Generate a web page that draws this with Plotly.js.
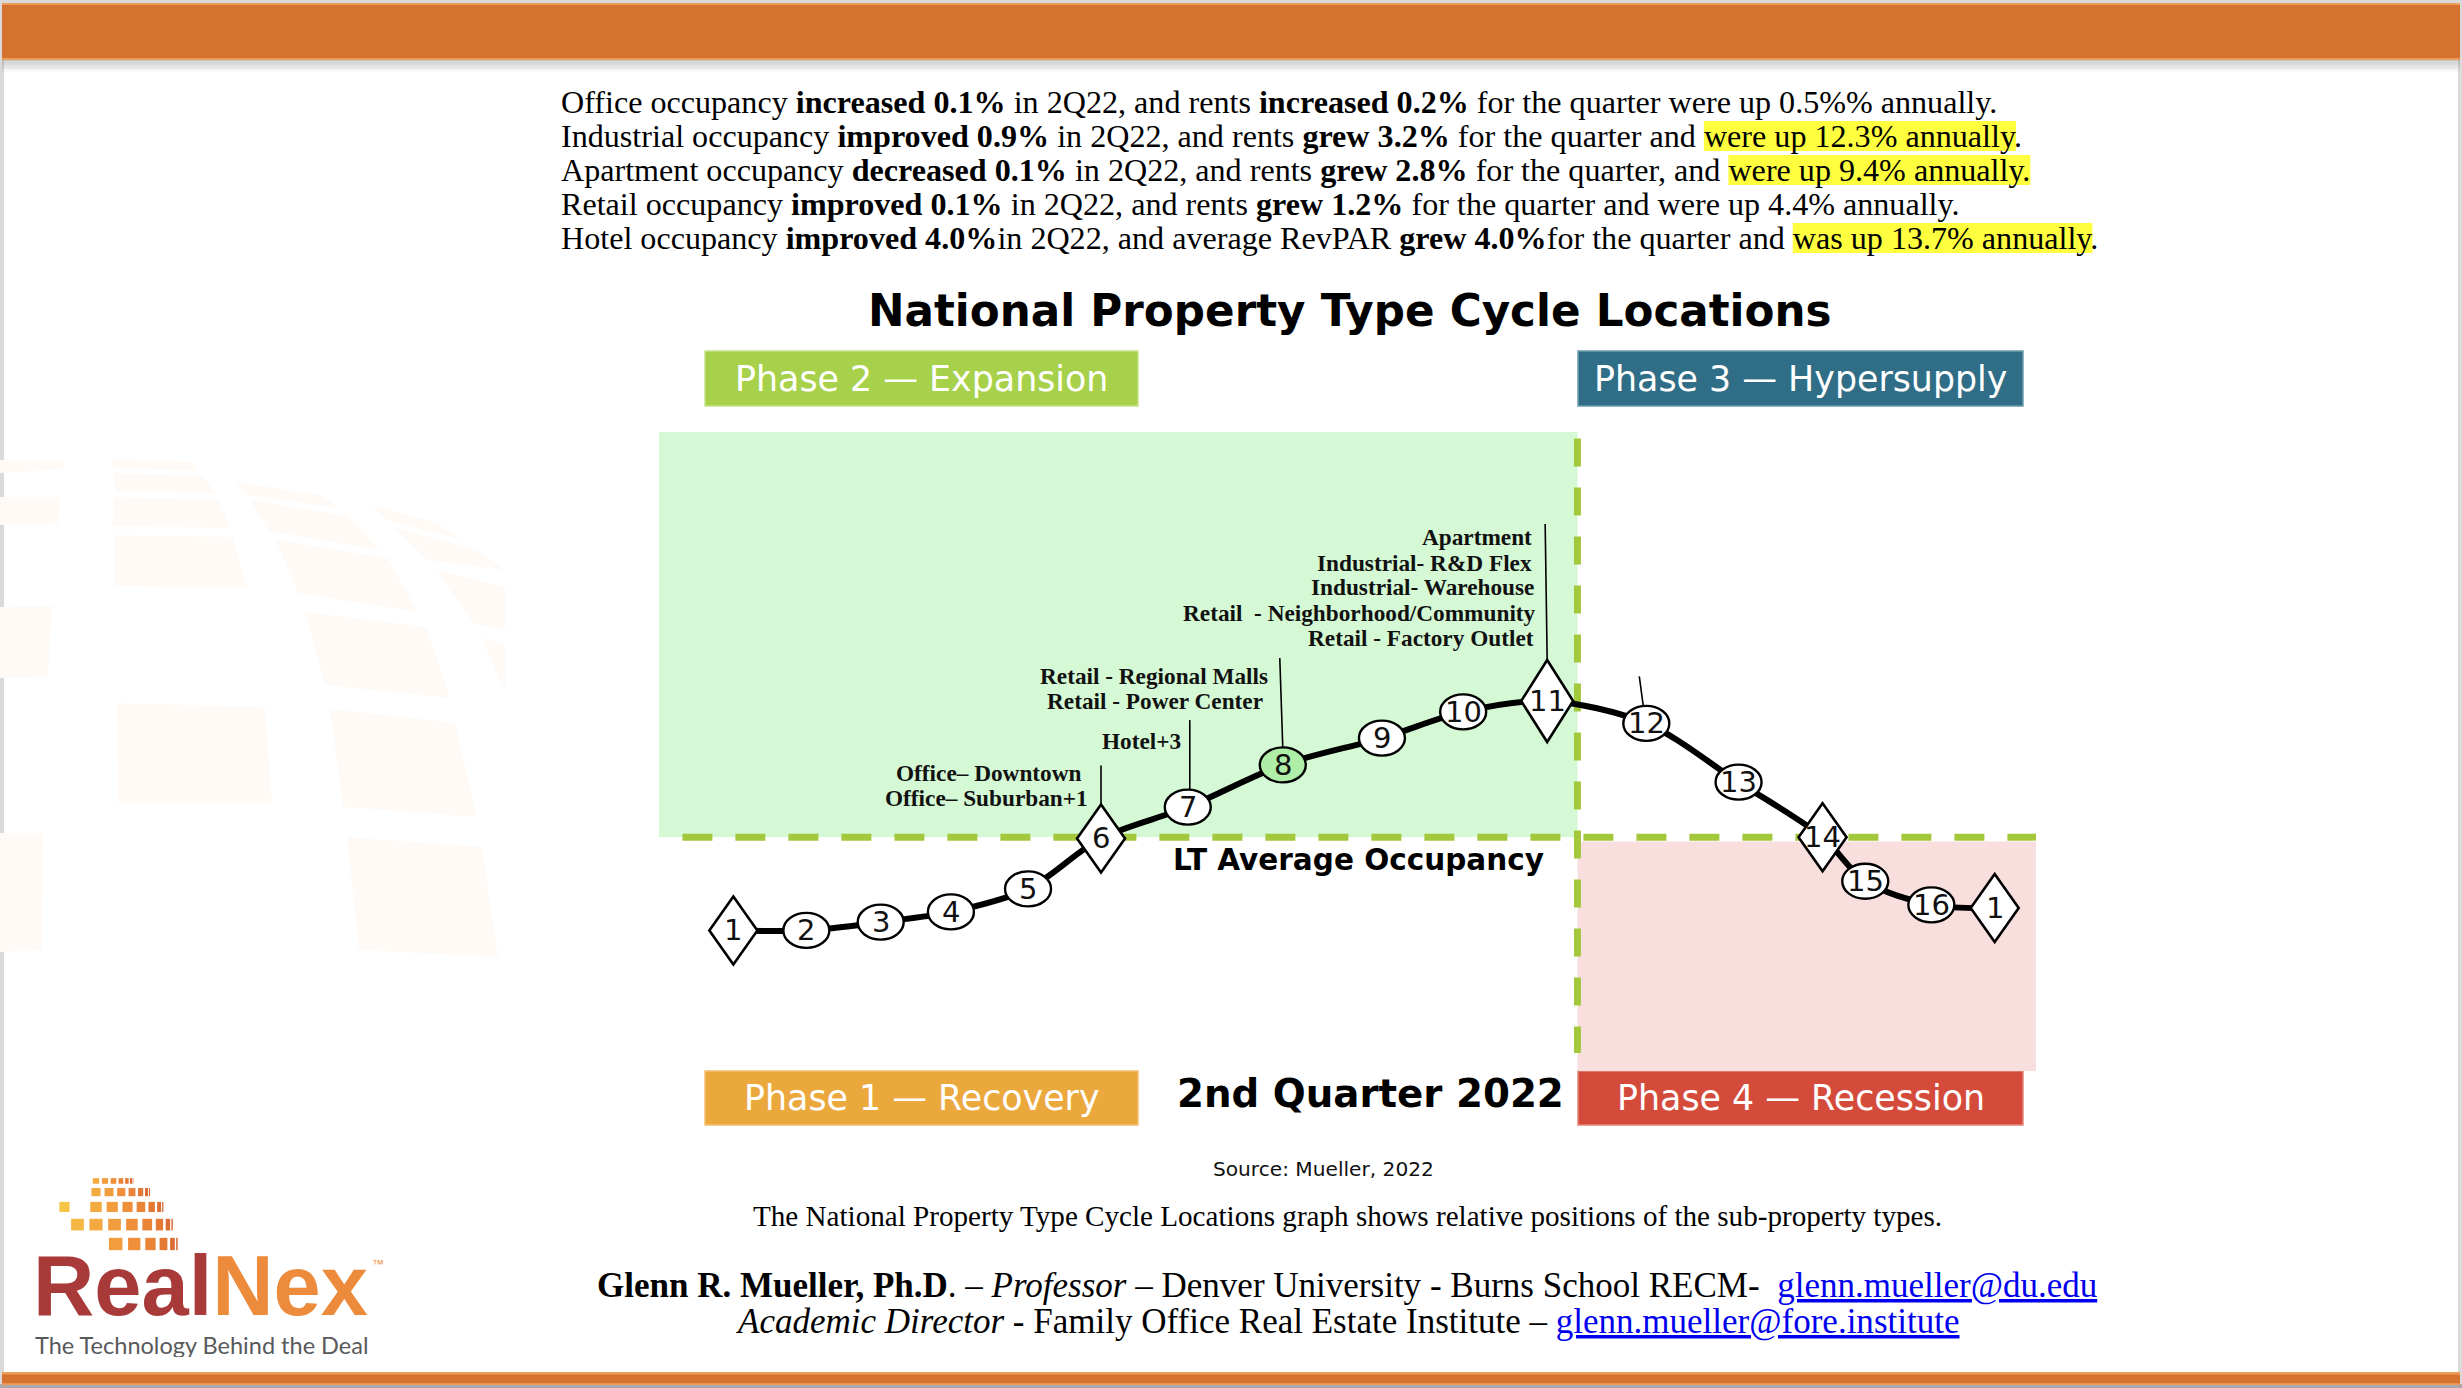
<!DOCTYPE html>
<html>
<head>
<meta charset="utf-8">
<script src="https://cdn.plot.ly/plotly-3.0.1.min.js"></script>
<style>html,body{margin:0;padding:0;background:#fff;overflow:hidden}#chart{width:2462px;height:1388px}</style>
</head>
<body>
<div id="chart"></div>
<script>
// ================= DATA =================
const cycleLabels    = ['1','2','3','4','5','6','7','8','9','10','11','12','13','14','15','16','1'];
const cyclePosition  = [5.4, 10.7, 16.1, 21.2, 26.8, 32.1, 38.4, 45.3, 52.5, 58.4, 64.5, 71.7, 78.4, 84.5, 87.6, 92.4, 97.0];
const occupancyIndex = [-14.6, -14.6, -13.3, -11.7, -8.1, -0.2, 4.7, 11.3, 15.5, 19.6, 21.3, 17.8, 8.6, 0.0, -6.9, -10.6, -11.1];
const turningPoints  = ['1', '6', '11', '14'];
const currentPointLabel = '8';
const ltAverageOccupancy = 0;
const hypersupplyStart = 66.7;
const propertyTypePoint = ['6', '7', '8', '11', '12'];
const propertyTypeNames = [
  ['Office– Downtown', 'Office– Suburban+1'],
  ['Hotel+3'],
  ['Retail - Regional Malls', 'Retail - Power Center'],
  ['Apartment', 'Industrial- R&amp;D Flex', 'Industrial- Warehouse', 'Retail  - Neighborhood/Community', 'Retail - Factory Outlet'],
  []
];
const phaseNames = ['Phase 1 — Recovery', 'Phase 2 — Expansion', 'Phase 3 — Hypersupply', 'Phase 4 — Recession'];
const summaryLines = [
  [['Office occupancy ', ''], ['increased 0.1%', 'b'], [' in 2Q22, and rents ', ''], ['increased 0.2%', 'b'], [' for the quarter were up 0.5%% annually.', '']],
  [['Industrial occupancy ', ''], ['improved 0.9%', 'b'], [' in 2Q22, and rents ', ''], ['grew 3.2%', 'b'], [' for the quarter and ', ''], ['were up 12.3% annually', 'h'], ['.', '']],
  [['Apartment occupancy ', ''], ['decreased 0.1%', 'b'], [' in 2Q22, and rents ', ''], ['grew 2.8%', 'b'], [' for the quarter, and ', ''], ['were up 9.4% annually.', 'h']],
  [['Retail occupancy ', ''], ['improved 0.1%', 'b'], [' in 2Q22, and rents ', ''], ['grew 1.2%', 'b'], [' for the quarter and were up 4.4% annually.', '']],
  [['Hotel occupancy ', ''], ['improved 4.0%', 'b'], ['in 2Q22, and average RevPAR ', ''], ['grew 4.0%', 'b'], ['for the quarter and ', ''], ['was up 13.7% annually', 'h'], ['.', '']]
];
const chartTitle = 'National Property Type Cycle Locations';
const quarterLabel = '2nd Quarter 2022';
const ltLabel = 'LT Average Occupancy';
const sourceText = 'Source: Mueller, 2022';
const captionText = 'The National Property Type Cycle Locations graph shows relative positions of the sub-property types.';
const authorLines = [
  [['Glenn R. Mueller, Ph.D', 'b'], ['. – ', ''], ['Professor', 'i'], [' – Denver University - Burns School RECM-  ', ''], ['glenn.mueller@du.edu', 'u']],
  [['Academic Director', 'i'], [' - Family Office Real Estate Institute – ', ''], ['glenn.mueller@fore.institute', 'u']]
];

// ================= STYLE / PLACEMENT =================
const W = 2462, H = 1388;
const PX = x => x / W, PY = y => 1 - y / H;
const labelOffsets = {
  '6': [[-19, 65], [-13, 40]],
  '7': [[-7, 66]],
  '8': [[-15, 89], [-20, 64]],
  '11': [[-15, 164], [-15, 138], [-13, 114], [-11, 88], [-13, 63]],
  '12': []
};
const leaderOffsets = {'6': [0, 34, 0, 73], '7': [2, 17, 2, 87], '8': [0, 17, -3, 107], '11': [0, 41, -2, 177], '12': [-3, 17, -7, 47]};
const diamondSize = {'default': [24, 34], '11': [26, 41]};

const ctx = document.createElement('canvas').getContext('2d');
function measure(text, style, size, family) {
  ctx.font = (style.includes('i') ? 'italic ' : '') + (style.includes('b') ? 'bold ' : '') + size + 'px "' + family + '"';
  return ctx.measureText(text).width;
}
function measureSegs(segs, size, family) { return segs.reduce((a, [t, s]) => a + measure(t, s, size, family), 0); }
function fit(text, style, family, target, base) { return base * target / measure(text, style, base, family); }
function segHTML(segs) {
  return segs.map(([t, s]) => {
    let h = t;
    if (s.includes('b')) h = '<b>' + h + '</b>';
    if (s.includes('i')) h = '<i>' + h + '</i>';
    if (s.includes('u')) h = '<span style="color:#0000EE"><u>' + h + '</u></span>';
    return h;
  }).join('');
}
function rectPx(x0, y0, x1, y1, color, extra) {
  return Object.assign({type: 'rect', xref: 'paper', yref: 'paper', x0: PX(x0), x1: PX(x1), y0: PY(y1), y1: PY(y0),
    fillcolor: color, line: {width: 0}, layer: 'below'}, extra || {});
}
function quadPx(pts, color) {
  const p = pts.map(([x, y], i) => (i ? 'L' : 'M') + PX(x).toFixed(5) + ',' + PY(y).toFixed(5)).join(' ') + ' Z';
  return {type: 'path', xref: 'paper', yref: 'paper', path: p, fillcolor: color, line: {width: 0}, layer: 'below'};
}
function textAnn(x, y, text, font, anchor, extra) {
  return Object.assign({xref: 'paper', yref: 'paper', x: PX(x), y: PY(y), text: text, showarrow: false,
    xanchor: anchor || 'center', yanchor: 'middle', font: font, borderpad: 0, borderwidth: 0}, extra || {});
}

const shapes = [], annotations = [];

// ---- page frame ----
shapes.push(rectPx(0, 0, 4, H, '#DADADA'));
shapes.push(rectPx(W - 4, 0, W, H, '#DADADA'));
shapes.push(rectPx(0, 0, W, 4, '#DADADA'));
// top bar with shadow
for (let i = 0; i < 8; i++) shapes.push(rectPx(2, 59 + i * 1.6, W - 2, 61 + i * 1.6, 'rgba(110,110,110,' + (0.30 * (1 - i / 8)).toFixed(3) + ')'));
shapes.push(rectPx(2, 3, W - 2, 60, '#EE9C5A'));
shapes.push(rectPx(2, 5, W - 2, 58, '#D6722F'));
// bottom bar
shapes.push(rectPx(0, 1384, W, H, '#A8A8A8'));
shapes.push(rectPx(2, 1372, W - 2, 1385, '#EE9C5A'));
shapes.push(rectPx(2, 1374.5, W - 2, 1383.3, '#D6722F'));

// ---- faint watermark tiles on the left ----
const wm = '#FFFAF5';
[
  [[0,460],[63,460],[63,469],[0,473]], [[0,497],[60,497],[58,524],[0,525]], [[0,607],[52,606],[48,677],[0,678]],
  [[0,833],[43,833],[42,950],[0,952]], [[113,459],[192,462],[199,471],[113,468]], [[113,473],[203,476],[215,493],[115,491]],
  [[113,497],[218,500],[231,528],[113,526]], [[114,535],[233,537],[247,588],[115,586]], [[117,703],[265,707],[272,803],[118,803]],
  [[235,482],[320,495],[340,508],[247,495]], [[250,500],[347,516],[380,550],[269,531]], [[276,540],[387,558],[418,612],[298,593]],
  [[305,612],[426,627],[450,698],[325,685]], [[330,709],[455,723],[477,817],[343,807]], [[347,837],[482,847],[498,957],[359,950]],
  [[372,505],[437,523],[463,540],[387,520]], [[393,527],[477,550],[505,570],[428,560]], [[437,570],[505,587],[505,630],[473,623]],
  [[482,638],[505,644],[505,690],[495,670]]
].forEach(q => shapes.push(quadPx(q, wm)));

// ---- summary paragraph ----
const SUM_X = 561, SUM_Y0 = 102, SUM_DY = 34;
const sumRight = [1997, 2024, 2032, 1960, 2101];
const sumBase = 27;
const sumMeasured = summaryLines.reduce((a, l) => a + measureSegs(l, sumBase, 'Liberation Serif'), 0);
const sumTarget = sumRight.reduce((a, r) => a + (r - SUM_X), 0);
const sumSize = sumBase * sumTarget / sumMeasured;
summaryLines.forEach((segs, i) => {
  const y = SUM_Y0 + i * SUM_DY;
  let x = SUM_X;
  segs.forEach(([t, s]) => {
    const w = measure(t, s, sumSize, 'Liberation Serif');
    if (s === 'h') shapes.push(rectPx(x, y - 15, x + w, y + 15, '#FFFF3F'));
    x += w;
  });
  annotations.push(textAnn(SUM_X, y, segHTML(segs), {family: 'Liberation Serif', size: sumSize, color: '#000'}, 'left'));
});

// ---- title ----
annotations.push(textAnn(1350, 310, '<b>' + chartTitle + '</b>',
  {family: 'DejaVu Sans', size: fit(chartTitle, 'b', 'DejaVu Sans', 964, 40), color: '#000'}));

// ---- phase boxes ----
const phaseBoxes = [
  {x0: 705, x1: 1138, y0: 1071, y1: 1125, fill: '#EBA83D', border: '#F2C070'},
  {x0: 705, x1: 1138, y0: 351, y1: 406, fill: '#A7D14A', border: '#C6E28A'},
  {x0: 1578, x1: 2023, y0: 351, y1: 406, fill: '#2F6E86', border: '#6E9CAD'},
  {x0: 1578, x1: 2023, y0: 1071, y1: 1125, fill: '#D44B3B', border: '#E4857A'}
];
const phaseTargets = [360, 371, 413, 367];
const phaseSize = 32 * phaseTargets.reduce((a, b) => a + b, 0) /
  phaseNames.reduce((a, t) => a + measure(t, '', 32, 'DejaVu Sans'), 0);
phaseBoxes.forEach((b, i) => {
  shapes.push(rectPx(b.x0, b.y0, b.x1, b.y1, b.fill, {line: {color: b.border, width: 1.5}}));
  annotations.push(textAnn((b.x0 + b.x1) / 2, (b.y0 + b.y1) / 2, phaseNames[i], {family: 'DejaVu Sans', size: phaseSize, color: '#FFFFFF'}));
});

// ---- cycle background regions ----
shapes.push({type: 'rect', xref: 'x', yref: 'y', x0: 0, x1: hypersupplyStart, y0: ltAverageOccupancy, y1: 63.4,
  fillcolor: '#D4F9D4', line: {width: 0}, layer: 'below'});
shapes.push({type: 'rect', xref: 'x', yref: 'y', x0: hypersupplyStart, x1: 100, y0: -36.6, y1: ltAverageOccupancy - 0.7,
  fillcolor: '#F9DEDE', line: {width: 0}, layer: 'below'});
shapes.push({type: 'line', xref: 'x', yref: 'y', x0: 1.7, x1: 100, y0: ltAverageOccupancy, y1: ltAverageOccupancy,
  line: {color: '#A4C83B', width: 7, dash: '30px,23px'}, layer: 'below'});
shapes.push({type: 'line', xref: 'x', yref: 'y', x0: hypersupplyStart, x1: hypersupplyStart, y0: 62.4, y1: -33.8,
  line: {color: '#A4C83B', width: 7, dash: '28px,21px'}, layer: 'below'});

annotations.push(textAnn(1358, 860, '<b>' + ltLabel + '</b>', {family: 'DejaVu Sans', size: fit(ltLabel, 'b', 'DejaVu Sans', 371, 28), color: '#000'}));
annotations.push(textAnn(1370, 1093, '<b>' + quarterLabel + '</b>', {family: 'DejaVu Sans', size: fit(quarterLabel, 'b', 'DejaVu Sans', 387, 38), color: '#000'}));

// ---- leader lines and property type labels ----
const labelSize = fit('Industrial- Warehouse', 'b', 'Liberation Serif', 224, 22);
propertyTypePoint.forEach((p, g) => {
  const i = cycleLabels.indexOf(p);
  const lo = leaderOffsets[p];
  shapes.push({type: 'line', xref: 'x', yref: 'y', xsizemode: 'pixel', ysizemode: 'pixel',
    xanchor: cyclePosition[i], yanchor: occupancyIndex[i], x0: lo[0], y0: lo[1], x1: lo[2], y1: lo[3],
    line: {color: '#000', width: 1.6}, layer: 'above'});
  propertyTypeNames[g].forEach((name, k) => {
    const off = labelOffsets[p][k];
    annotations.push({xref: 'x', yref: 'y', x: cyclePosition[i], y: occupancyIndex[i], text: '<b>' + name + '</b>',
      showarrow: false, xanchor: 'right', yanchor: 'middle', xshift: off[0], yshift: off[1], borderpad: 0, borderwidth: 0,
      font: {family: 'Liberation Serif', size: labelSize, color: '#111'}});
  });
});

// ---- cycle markers ----
cycleLabels.forEach((lab, i) => {
  const isTurn = turningPoints.includes(lab);
  const fill = lab === currentPointLabel ? '#AEEEA6' : '#FFFFFF';
  if (isTurn) {
    const d = diamondSize[lab] || diamondSize['default'];
    shapes.push({type: 'path', xref: 'x', yref: 'y', xsizemode: 'pixel', ysizemode: 'pixel',
      xanchor: cyclePosition[i], yanchor: occupancyIndex[i],
      path: 'M0,' + d[1] + ' L' + d[0] + ',0 L0,-' + d[1] + ' L-' + d[0] + ',0 Z',
      fillcolor: fill, line: {color: '#000', width: 2.6}, layer: 'above'});
  } else {
    shapes.push({type: 'circle', xref: 'x', yref: 'y', xsizemode: 'pixel', ysizemode: 'pixel',
      xanchor: cyclePosition[i], yanchor: occupancyIndex[i], x0: -23, x1: 23, y0: -17.5, y1: 17.5,
      fillcolor: fill, line: {color: '#000', width: 2.4}, layer: 'above'});
  }
  annotations.push({xref: 'x', yref: 'y', x: cyclePosition[i], y: occupancyIndex[i], text: lab, showarrow: false,
    xanchor: 'center', yanchor: 'middle', borderpad: 0, borderwidth: 0,
    font: {family: 'DejaVu Sans', size: 29, color: '#111'}});
});

// ---- source, caption, author ----
annotations.push(textAnn(1323, 1169, sourceText, {family: 'DejaVu Sans', size: fit(sourceText, '', 'DejaVu Sans', 221, 20), color: '#111'}));
annotations.push(textAnn(1347, 1216, captionText, {family: 'Liberation Serif', size: fit(captionText, '', 'Liberation Serif', 1190, 26), color: '#000'}));
const authSize = 30 * 1501 / measureSegs(authorLines[0], 30, 'Liberation Serif');
[1285, 1321].forEach((y, k) => {
  annotations.push(textAnn(1347, y, segHTML(authorLines[k]), {family: 'Liberation Serif', size: authSize, color: '#000'}));
});

// ---- RealNex logo ----
const gcx = 96, gcy = 1254, gR = 82, step = 14;
const lats = [7, 21, 35, 49, 63];
function mix(a, b, t) { return a.map((v, k) => Math.round(v + (b[k] - v) * t)); }
lats.forEach((lat, li) => {
  for (let lon = -28; lon <= 84; lon += step) {
    const ci = (lon + 28) / step;
    if (lon < 0 && (li + ci) % 2 === 1) continue;
    if (lat >= 49 && lon < 0) continue;
    if (lat <= 7 && lon < 14) continue;
    const r = lat * Math.PI / 180, o = lon * Math.PI / 180, s = step * Math.PI / 180;
    const cx = gcx + gR * Math.cos(r) * Math.sin(o);
    const cy = gcy - gR * Math.sin(r);
    const w = gR * Math.cos(r) * Math.cos(o) * s * 0.7;
    const h = gR * Math.cos(r) * s * 0.62;
    const t = (lon + 28) / 112;
    const c = t < 0.5 ? mix([246, 196, 70], [239, 143, 58], t * 2) : mix([239, 143, 58], [214, 98, 48], (t - 0.5) * 2);
    shapes.push(rectPx(cx - w / 2, cy - h / 2, cx + w / 2, cy + h / 2, 'rgb(' + c.join(',') + ')'));
  }
});
const logoSize = fit('RealNex', 'b', 'Liberation Sans', 335, 80);
annotations.push(textAnn(33, 1285, '<b><span style="color:#A93A3A">Real</span><span style="color:#EC8B3B">Nex</span></b>',
  {family: 'Liberation Sans', size: logoSize}, 'left', {height: 66}));
annotations.push(textAnn(372, 1264, '™', {family: 'Liberation Sans', size: 12, color: '#EC8B3B'}, 'left', {height: 12}));
annotations.push(textAnn(35, 1345, 'The Technology Behind the Deal',
  {family: 'Lato', size: fit('The Technology Behind the Deal', '', 'Lato', 335, 24), color: '#58595B'}, 'left', {height: 24}));

// ---- cycle curve ----
const trace = {
  x: cyclePosition, y: occupancyIndex, type: 'scatter', mode: 'lines',
  line: {color: '#000000', width: 6, shape: 'spline', smoothing: 0.9},
  hoverinfo: 'skip', showlegend: false
};

const layout = {
  width: W, height: H, margin: {l: 0, r: 0, t: 0, b: 0, pad: 0},
  paper_bgcolor: '#FFFFFF', plot_bgcolor: 'rgba(0,0,0,0)', showlegend: false,
  xaxis: {domain: [PX(659), PX(2036)], range: [0, 100], visible: false, fixedrange: true},
  yaxis: {domain: [PY(1071), PY(432)], range: [-36.6, 63.4], visible: false, fixedrange: true},
  shapes: shapes, annotations: annotations,
  font: {family: 'DejaVu Sans', color: '#000'}
};
Plotly.newPlot('chart', [trace], layout, {staticPlot: true, displayModeBar: false});
</script>
</body>
</html>
